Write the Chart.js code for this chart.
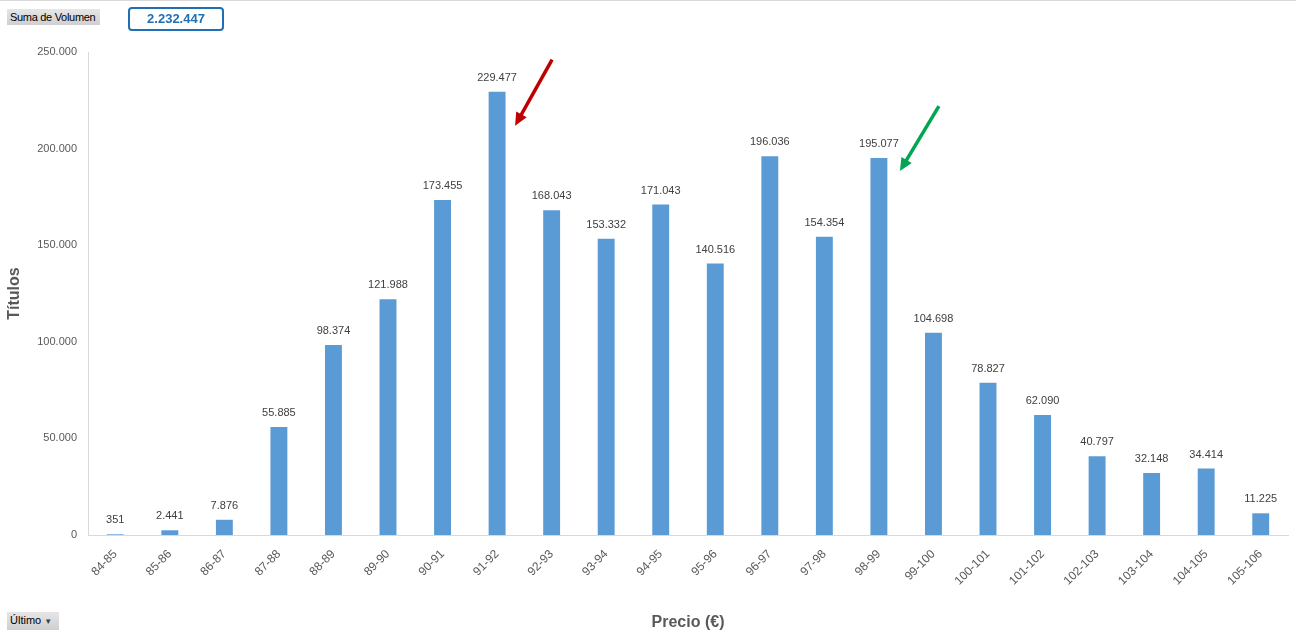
<!DOCTYPE html>
<html>
<head>
<meta charset="utf-8">
<script src="https://cdn.jsdelivr.net/npm/chart.js@4.4.0/dist/chart.umd.min.js"></script>
<style>
  html, body { margin: 0; padding: 0; background: #fff; }
  body { width: 1296px; height: 634px; position: relative; overflow: hidden; font-family: "Liberation Sans", Arial, sans-serif; }
  #wrap { position: absolute; left: 0; top: 0; width: 1296px; height: 634px; }
  .topline { position: absolute; left: 0; top: 0; width: 1296px; height: 1px; background: #d9d9d9; }
  .btn { position: absolute; background: linear-gradient(#e6e6e6, #cfcfcf); color: #000; font-size: 11px; line-height: 16px; padding: 0 3px; white-space: nowrap; box-sizing: border-box; }
  .total { position: absolute; left: 128px; top: 7px; width: 92px; height: 20px; border: 2px solid #1f6fb5; border-radius: 4px; color: #1f6fb5; font-weight: bold; font-size: 13px; line-height: 20px; text-align: center; }
</style>
</head>
<body>
<div id="wrap"><canvas id="c" width="1296" height="634"></canvas></div>
<div class="topline"></div>
<div class="btn" style="left:7px;top:9px;width:93px;letter-spacing:-0.3px;">Suma de Volumen</div>
<div class="total">2.232.447</div>
<div class="btn" style="left:7px;top:612px;width:52px;">Último <span style="font-size:8px;color:#444;">&#9660;</span></div>
<script>
const categories = ["84-85","85-86","86-87","87-88","88-89","89-90","90-91","91-92","92-93","93-94","94-95","95-96","96-97","97-98","98-99","99-100","100-101","101-102","102-103","103-104","104-105","105-106"];
const volumes = [351, 2441, 7876, 55885, 98374, 121988, 173455, 229477, 168043, 153332, 171043, 140516, 196036, 154354, 195077, 104698, 78827, 62090, 40797, 32148, 34414, 11225];
const yTicksMax = 250000;
const yTickStep = 50000;
const arrowTargets = [
  { category: "91-92", color: "#c00000" },
  { category: "98-99", color: "#00a650" }
];

function fmt(n) {
  return String(Math.round(n)).replace(/\B(?=(\d{3})+(?!\d))/g, ".");
}

const labelPlugin = {
  id: "valLabels",
  afterDatasetsDraw(chart) {
    const ctx = chart.ctx;
    const meta = chart.getDatasetMeta(0);
    ctx.save();
    ctx.font = "11px 'Liberation Sans', Arial, sans-serif";
    ctx.fillStyle = "#404040";
    ctx.textAlign = "center";
    ctx.textBaseline = "middle";
    meta.data.forEach((bar, i) => {
      ctx.fillText(fmt(volumes[i]), bar.x, bar.y - 14);
    });
    const xs = chart.scales.x, ys = chart.scales.y;
    arrowTargets.forEach((a, k) => {
      const idx = categories.indexOf(a.category);
      const bx = xs.getPixelForValue(idx);
      const by = ys.getPixelForValue(volumes[idx]);
      let sx, sy, tx, ty;
      if (k === 0) { sx = bx + 55; sy = by - 32; tx = bx + 18; ty = by + 34; }
      else { sx = bx + 60; sy = by - 52; tx = bx + 21; ty = by + 13; }
      const ang = Math.atan2(ty - sy, tx - sx);
      const hl = 13, hw = 6;
      const ex = tx - Math.cos(ang) * hl * 0.8, ey = ty - Math.sin(ang) * hl * 0.8;
      ctx.strokeStyle = a.color;
      ctx.fillStyle = a.color;
      ctx.lineWidth = 3.5;
      ctx.beginPath();
      ctx.moveTo(sx, sy);
      ctx.lineTo(ex, ey);
      ctx.stroke();
      ctx.beginPath();
      ctx.moveTo(tx, ty);
      ctx.lineTo(tx - Math.cos(ang) * hl - Math.sin(ang) * hw, ty - Math.sin(ang) * hl + Math.cos(ang) * hw);
      ctx.lineTo(tx - Math.cos(ang) * hl + Math.sin(ang) * hw, ty - Math.sin(ang) * hl - Math.cos(ang) * hw);
      ctx.closePath();
      ctx.fill();
    });
    ctx.restore();
  }
};

new Chart(document.getElementById("c"), {
  type: "bar",
  data: {
    labels: categories,
    datasets: [{
      data: volumes,
      backgroundColor: "#5b9bd5",
      borderWidth: 0,
      barPercentage: 0.31,
      categoryPercentage: 1.0
    }]
  },
  options: {
    responsive: false,
    animation: false,
    devicePixelRatio: 1,
    layout: { padding: { left: 0, right: 8, top: 52, bottom: 0 } },
    plugins: { legend: { display: false }, tooltip: { enabled: false } },
    scales: {
      x: {
        grid: { display: false },
        border: { display: true, color: "#d9d9d9", width: 1 },
        ticks: {
          color: "#595959",
          font: { size: 12, family: "'Liberation Sans', Arial, sans-serif" },
          minRotation: 45, maxRotation: 45, autoSkip: false, padding: 4
        },
        title: {
          display: true, text: "Precio (€)", color: "#595959",
          font: { size: 16, weight: "bold", family: "'Liberation Sans', Arial, sans-serif" },
          padding: { top: 0, bottom: 2 }
        },
        afterFit(s) { s.height = 99; }
      },
      y: {
        min: 0, max: yTicksMax,
        grid: { display: false },
        border: { display: true, color: "#d9d9d9", width: 1 },
        ticks: {
          stepSize: yTickStep,
          color: "#595959",
          padding: 3,
          font: { size: 11, family: "'Liberation Sans', Arial, sans-serif" },
          callback: (v) => fmt(v)
        },
        title: {
          display: true, text: "Títulos", color: "#595959",
          font: { size: 16, weight: "bold", family: "'Liberation Sans', Arial, sans-serif" },
          padding: { top: 5, bottom: 0 }
        },
        afterFit(s) { s.width = 88; }
      }
    }
  },
  plugins: [labelPlugin]
});
</script>
</body>
</html>
